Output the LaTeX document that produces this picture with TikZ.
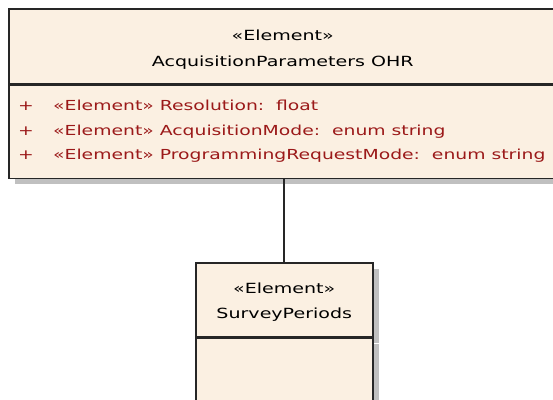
\documentclass[tikz,border=0pt]{standalone}
\usepackage{fontspec}
\setmainfont{DejaVu Sans}[FakeStretch=1.36]
\usetikzlibrary{shadows}
\definecolor{classfill}{RGB}{251,240,226}
\definecolor{attrred}{RGB}{155,25,25}
\definecolor{shadowgray}{RGB}{192,192,192}
\begin{document}
\begin{tikzpicture}[x=1pt,y=1pt,
  classbox/.style={draw=black!85, line width=1.5pt, fill=classfill, rectangle, inner sep=0pt, anchor=north west,
    drop shadow={shadow xshift=6pt, shadow yshift=-6pt, fill=shadowgray, opacity=1}},
  titletext/.style={font=\fontsize{14}{25}\selectfont, text=black, inner sep=0pt, anchor=base},
  attrtext/.style={font=\fontsize{13.8}{24}\selectfont, text=attrred, inner sep=0pt, anchor=base west}]
\useasboundingbox (0,0) rectangle (553,-399);
\clip (0,0) rectangle (553,-399);
\node[classbox, minimum width=548pt, minimum height=75pt] (ohrname) at (8,-8) {};
\node[classbox, minimum width=548pt, minimum height=93pt] (ohrattr) at (ohrname.south west) {};
\node[titletext] (ohrstereo) at ([yshift=-32pt]ohrname.north) {«Element»};
\node[titletext] (ohrtitle) at ([yshift=-58pt]ohrname.north) {AcquisitionParameters OHR};
\node[attrtext] (resolution) at ([xshift=10pt,yshift=-26pt]ohrattr.north west) {\makebox[35pt][l]{+}«Element» Resolution:\ \ float};
\node[attrtext] (acqmode) at ([yshift=-24.5pt]resolution.base west) {\makebox[35pt][l]{+}«Element» AcquisitionMode:\ \ enum string};
\node[attrtext] (progmode) at ([yshift=-24.5pt]acqmode.base west) {\makebox[35pt][l]{+}«Element» ProgrammingRequestMode:\ \ enum string};
\node[classbox, minimum width=177pt, minimum height=74pt] (survname) at (195,-262) {};
\node[classbox, minimum width=177pt, minimum height=90pt] (survattr) at (survname.south west) {};
\node[titletext] (survstereo) at ([yshift=-31pt]survname.north) {«Element»};
\node[titletext] (survtitle) at ([yshift=-56pt]survname.north) {SurveyPeriods};
\path[draw, line width=1.8pt, black!85] (survname.north) -- (survname.north |- ohrattr.south);
\end{tikzpicture}
\end{document}
